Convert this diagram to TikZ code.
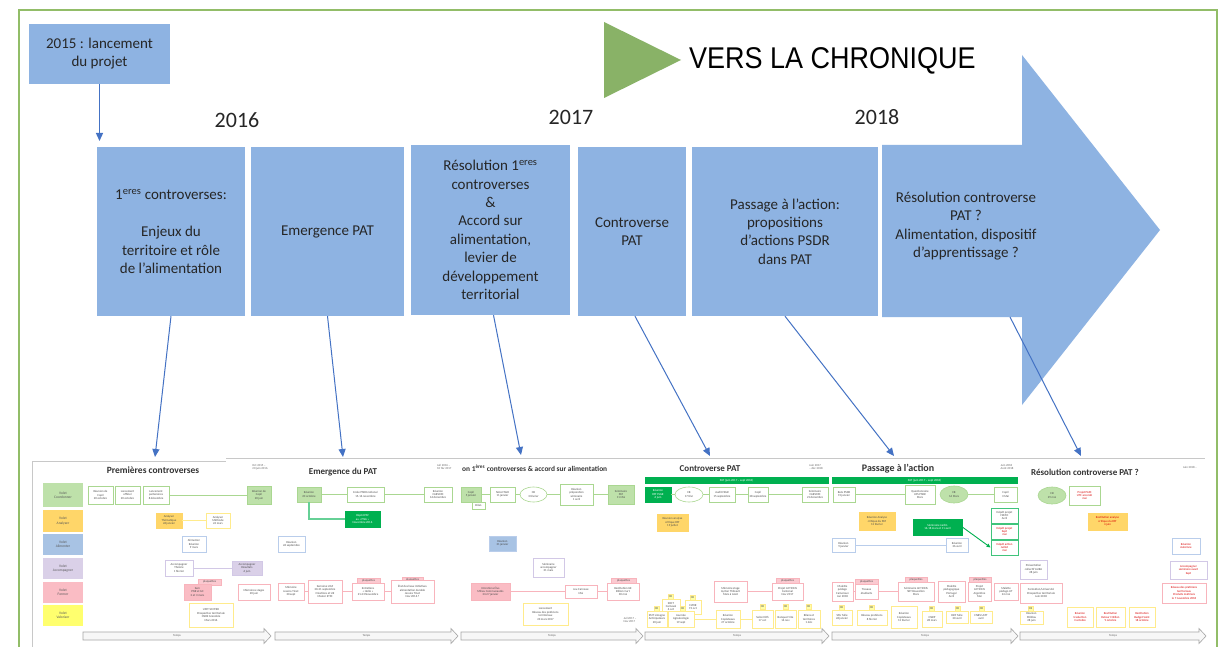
\documentclass[tikz,border=0pt]{standalone}
\usepackage{fontspec}
\setmainfont{Carlito}
\newfontfamily\condfont[FakeStretch=0.9]{Liberation Sans}
\usetikzlibrary{arrows.meta,shapes.geometric}
\definecolor{boxblue}{RGB}{142,179,226}
\definecolor{connblue}{RGB}{68,114,196}
\definecolor{trigreen}{RGB}{137,178,103}
\definecolor{framegreen}{RGB}{146,189,104}
\definecolor{cCo}{RGB}{190,225,170}
\definecolor{cAn}{RGB}{255,214,105}
\definecolor{cAl}{RGB}{168,195,228}
\definecolor{cAc}{RGB}{218,208,232}
\definecolor{cFo}{RGB}{250,188,196}
\definecolor{cVa}{RGB}{255,255,110}
\definecolor{lgreen}{RGB}{170,215,145}
\definecolor{lyellow}{RGB}{255,235,140}
\definecolor{lblue}{RGB}{185,205,235}
\definecolor{llav}{RGB}{210,200,230}
\definecolor{lpink}{RGB}{248,180,188}
\definecolor{dkgreen}{RGB}{0,176,80}
\definecolor{panelgray}{RGB}{200,200,200}
\definecolor{txt}{RGB}{38,38,38}
\newcommand\tnyf{\fontsize{3.0}{3.4}\selectfont}
\newcommand\lanef{\fontsize{3.6}{4.4}\selectfont}
\newcommand\sbx[6]{\node[#1,minimum width={(#4)-(#2)},minimum height={(#5)-(#3)}] (#6) at ({((#2)+(#4))/2},{((#3)+(#5))/2})}
\newcommand\tempsarrow[3]{%
  \draw[tarrow] (#1,632) -- ({#2-7},632) -- ({#2-7},628.5) -- (#2,636) -- ({#2-7},643.5) -- ({#2-7},640) -- (#1,640) -- cycle;
  \node[tnode] (#3) at ({(#1+#2)/2},636) {Temps};}
\tikzset{
  bbox/.style={rectangle,fill=boxblue,draw=none,inner sep=0pt,align=center,text=txt,font=\fontsize{15}{18.4}\selectfont},
  conn/.style={draw=connblue,line width=1pt,-{Triangle[length=8pt,width=7pt]}},
  lane/.style={rectangle,inner sep=0pt,align=center,font=\lanef,text=black!65},
  sb/.style={rectangle,draw,line width=0.6pt,inner sep=0pt,align=center,font=\tnyf,fill=white,text=black!70},
  go/.style={sb,draw=lgreen},
  gf/.style={sb,draw=lgreen,fill=cCo},
  dg/.style={sb,draw=dkgreen,fill=dkgreen,text=white},
  gO/.style={sb,draw=dkgreen!75,line width=0.9pt},
  yo/.style={sb,draw=lyellow},
  yf/.style={sb,draw=cAn,fill=cAn},
  bo/.style={sb,draw=lblue},
  bf/.style={sb,draw=lblue,fill=cAl},
  lo/.style={sb,draw=llav},
  lf/.style={sb,draw=llav,fill=cAc},
  po/.style={sb,draw=lpink},
  pf/.style={sb,draw=lpink,fill=cFo},
  ell/.style={ellipse},
  rt/.style={text=red!85!black},
  tagP/.style={sb,draw=lpink,fill=cFo!80,line width=0.4pt},
  tagY/.style={sb,draw=lyellow,fill=cVa!60,line width=0.4pt},
  bar/.style={sb,draw=dkgreen,fill=dkgreen,text=white},
  lg/.style={draw=lgreen,line width=0.8pt},
  ly/.style={draw=lyellow,line width=0.8pt},
  lb/.style={draw=lblue,line width=0.8pt},
  ll/.style={draw=llav,line width=0.8pt},
  lp/.style={draw=lpink,line width=0.8pt},
  tarrow/.style={draw=black!35,fill=black!3,line width=0.6pt},
  tnode/.style={inner sep=0pt,font=\tnyf,text=black!60},
  ttl/.style={inner sep=0pt,font=\bfseries\fontsize{9}{10}\selectfont,text=black!80},
  datef/.style={inner sep=0pt,align=left,font=\tnyf,text=black!60},
  panel/.style={draw=panelgray,line width=0.6pt},
  year/.style={inner sep=0pt,font=\fontsize{22}{24}\selectfont,text=txt}
}
\begin{document}
\begin{tikzpicture}[x=1pt,y=-1pt]
\useasboundingbox (0,0) rectangle (1230,647);
\fill[white] (0,0) rectangle (1230,647);
% frame
\draw[framegreen,line width=1.4pt] (19,650) -- (19,10) -- (1217,10) -- (1217,650);
% 2015 box
\node[bbox,font=\fontsize{15}{18}\selectfont,minimum width=141,minimum height=60] (b0) at (99.5,54) {2015 : lancement\\du projet};
\coordinate (t0) at (99.5,141);
\draw[conn,line width=1.3pt] (b0.south) -- (t0);
% years
\node[year] (y16) at (237,120) {2016};
\node[year] (y17) at (571,117) {2017};
\node[year] (y18) at (877,117) {2018};
% vers la chronique
\fill[trigreen] (604,22) -- (681,60) -- (604,98) -- cycle;
\node[inner sep=0pt,anchor=west,font=\condfont\fontsize{30}{32}\selectfont] (vlc) at (689,61) {VERS LA CHRONIQUE};
% big arrow
\fill[boxblue] (882,145) -- (1022,145) -- (1022,55) -- (1160,230) -- (1022,405) -- (1022,317) -- (882,317) -- cycle;
% blue boxes
\node[bbox,minimum width=148,minimum height=169] (b1) at (171,231.5) {1\textsuperscript{eres} controverses:\\[18.4pt]Enjeux du\\territoire et rôle\\de l’alimentation};
\node[bbox,minimum width=153,minimum height=169] (b2) at (327.5,231.5) {Emergence PAT};
\node[bbox,minimum width=159,minimum height=170] (b3) at (490.5,230) {Résolution 1\textsuperscript{eres}\\controverses\\\&\\Accord sur\\alimentation,\\levier de\\développement\\territorial};
\node[bbox,minimum width=108,minimum height=169] (b4) at (632,231.5) {Controverse\\PAT};
\node[bbox,minimum width=186,minimum height=169] (b5) at (785,231.5) {Passage à l’action:\\propositions\\d’actions PSDR\\dans PAT};
\node[bbox,fill=none] (b6) at (966,226) {Résolution controverse\\PAT ?\\Alimentation, dispositif\\d’apprentissage ?};
% connectors
\coordinate (t1) at (155,457);
\coordinate (t2) at (343,457);
\coordinate (t3) at (521,455);
\coordinate (t4) at (710,456);
\coordinate (t5) at (894,456);
\coordinate (s6) at (1010,317);
\coordinate (t6) at (1081,456);
\draw[conn] (b1.south) -- (t1);
\draw[conn] (b2.south) -- (t2);
\draw[conn] ([xshift=3pt]b3.south) -- (t3);
\draw[conn] ([xshift=3pt]b4.south) -- (t4);
\draw[conn] (b5.south) -- (t5);
\draw[conn] (s6) -- (t6);
% ===== bottom strip =====
\draw[panel] (32,647) -- (32,461) -- (226,461);
\draw[panel] (226,458) -- (1205,458);
% lanes
\sbx{lane,fill=cCo}{43}{483}{83}{507}{L1}{Volet\\Coordonner};
\sbx{lane,fill=cAn}{43}{510}{83}{532}{L2}{Volet\\Analyser};
\sbx{lane,fill=cAl}{43}{534}{83}{555}{L3}{Volet\\Alimenter};
\sbx{lane,fill=cAc}{43}{558}{83}{579}{L4}{Volet\\Accompagner};
\sbx{lane,fill=cFo}{43}{582}{83}{603}{L5}{Volet\\Former};
\sbx{lane,fill=cVa}{43}{605}{83}{626}{L6}{Volet\\Valoriser};
% panel 1
\node[ttl,font=\bfseries\fontsize{9.5}{10}\selectfont] (h1) at (153,470) {Premières controverses};
\node[datef] (d1) at (260,467) {Oct 2015 –\\20 juin 2016};
\sbx{go}{88}{486}{113}{504}{p1a}{Réunion de\\Copil\\20 octobre};
\sbx{go}{115}{486}{140}{504}{p1b}{Lancement\\officiel\\20 octobre};
\sbx{go}{143}{486}{169}{504}{p1c}{Lancement\\partenaires\\8 décembre};
\sbx{gf}{247}{486}{271}{504}{p1d}{Réunion de\\Copil\\20 juin};
\draw[lg] (p1c) -- (p1d);
\sbx{yf}{156}{513}{182}{528}{p1e}{Analyser\\Thématique\\26 janvier};
\sbx{yo}{206}{513}{230}{528}{p1f}{Analyser\\Méthode\\24 mars};
\draw[ly] (p1e) -- (p1f);
\sbx{bo}{182}{536}{206}{552}{p1g}{Alimenter\\Réunion\\9 mars};
\sbx{lo}{165}{560}{193}{576}{p1h}{Accompagner\\Théorie\\1 février};
\sbx{lf}{232}{561}{262}{575}{p1i}{Accompagner\\Résultats\\6 juin};
\draw[ll] (p1h) -- (p1i);
\sbx{tagP}{198}{579}{221}{585}{p1t}{plaquettes};
\sbx{pf}{184}{584}{211}{600}{p1j}{Sem\\PNR et GC\\2 et 3 mars};
\sbx{po}{238}{584}{270}{600}{p1k}{Mémoires stages\\20 juin};
\sbx{yo}{189}{603}{233}{627}{p1l}{UMT SCOTER\\Prospective territoriale\\CNRS Grenoble\\Mars 2016};
\tempsarrow{83}{271}{tm1}
% panel 2
\node[ttl] (h2) at (343,472) {Emergence du PAT};
\sbx{gf}{297}{487}{321}{502}{p2a}{Réunion\\20 octobre};
\sbx{go}{347}{487}{384}{502}{p2b}{Ecole PSDR national\\15-16 novembre};
\sbx{go}{424}{487}{452}{502}{p2c}{Réunion\\CARSOM\\16 décembre};
\draw[lg] (p2a) -- (p2b);
\draw[lg] (p2b) -- (p2c);
\sbx{dg}{345}{511}{380}{527}{p2d}{Dépôt PAT\\au « PNA »\\Novembre 2016};
\draw[draw=dkgreen!60,line width=1.2pt] (p2a.south) |- (p2d.west);
\sbx{bo}{278}{536}{305}{552}{p2e}{Réunion\\26 septembre};
\sbx{po}{278}{583}{304}{600}{p2f}{Mémoire\\Jessica Tinet\\30 sept};
\sbx{po}{308}{580}{342}{603}{p2g}{Semaine UGF\\20-21 septembre\\Créations et UE\\Master ETM};
\sbx{tagP}{357}{578}{380}{583}{p2t1}{plaquettes};
\sbx{po}{352}{583}{384}{600}{p2h}{Entretiens\\« Hello »\\21-23 Novembre};
\sbx{tagP}{402}{577}{423}{582}{p2t2}{plaquettes};
\sbx{po}{391}{580}{434}{603}{p2i}{État des lieux initiatives\\alimentation durable\\Jessica Tinet\\Nov 2016 ?};
\draw[lp] (p2f) -- (p2g);
\draw[lp] (p2g) -- (p2h);
\draw[lp] (p2h) -- (p2i);
\tempsarrow{275}{458}{tm2}
% panel 3
\node[datef,anchor=west] (d3) at (437,467) {Juil 2016 –\\10 fév 2017};
\node[ttl,anchor=west,font=\bfseries\fontsize{7.4}{8}\selectfont] (h3) at (462,468) {on 1\textsuperscript{ères} controverses \& accord sur alimentation};
\sbx{gf}{461}{487}{481}{502}{p3a}{Copil\\5 janvier};
\sbx{go}{472}{502}{485}{509}{p3a2}{Bilan};
\sbx{go}{490}{487}{515}{502}{p3b}{Note FSGR\\11 janvier};
\sbx{go,ell}{520}{487}{547}{502}{p3c}{CB\\3 février};
\sbx{go}{560}{484}{593}{505}{p3d}{Réunion\\préparation\\séminaire\\1 avril};
\sbx{gf}{608}{485}{634}{504}{p3e}{Séminaire\\PAT\\11 Mai};
\draw[lg] (p3a) -- (p3b);
\draw[lg] (p3b) -- (p3c);
\draw[lg] (p3c) -- (p3d);
\draw[lg] (p3d) -- (p3e);
\sbx{bf}{489}{536}{516}{551}{p3f}{Réunion\\31 janvier};
\sbx{lo}{533}{558}{564}{577}{p3g}{Séminaire\\accompagner\\31 mars};
\sbx{pf}{471}{583}{510}{600}{p3h}{Entretiens Élus\\Milieu Communautés\\23-27 janvier};
\sbx{po}{565}{585}{597}{598}{p3i}{Jeu Carrasse\\Mai};
\sbx{tagP}{611}{578}{636}{583}{p3t}{plaquettes};
\sbx{po}{607}{583}{639}{600}{p3j}{Restitution UE\\Billom Curt\\30 mai};
\draw[lp] (p3h) -- (p3i);
\draw[lp] (p3i) -- (p3j);
\sbx{yo}{523}{603}{568}{625}{p3k}{Lancement\\Réseau des praticiens\\territoriaux\\23 mars 2017};
\node[datef] (d3b) at (630,620) {Juil 2017 –\\Nov 2017};
\tempsarrow{461}{643}{tm3}
% panel 4
\node[ttl] (h4) at (710,469) {Controverse PAT};
\node[datef] (d4) at (816,467) {Juin 2017\\– déc 2018};
\sbx{bar}{645}{477}{828}{483.5}{bar4}{PAT (juin 2017 – sept 2018)};
\sbx{dg}{645}{487}{671}{502}{p4a}{Réunion\\PAT FSGR\\6 juin};
\sbx{go,ell}{675}{487}{703}{502}{p4b}{CB\\17 févr};
\sbx{go}{709}{487}{735}{502}{p4c}{Audit FSGR\\15 septembre};
\sbx{go}{748}{487}{768}{502}{p4d}{Copil\\28 septembre};
\sbx{go}{802}{487}{828}{502}{p4e}{Séminaire\\CARSOM\\21 décembre};
\draw[lg] (p4a) -- (p4b);
\draw[lg] (p4b) -- (p4c);
\draw[lg] (p4c) -- (p4d);
\draw[lg] (p4d) -- (p4e);
\sbx{yf}{657}{514}{688}{531}{p4f}{Réunion analyse\\critique PAT\\19 juillet};
\sbx{po}{714}{581}{747}{602}{p4g}{Mémoire stage\\Ayrton Thibault\\Mars à Août};
\sbx{tagP}{776}{578}{799}{583}{p4t}{plaquettes};
\sbx{po}{772}{583}{803}{600}{p4h}{Projet ACTIONS\\Cantonal\\Nov 2017};
\draw[lp] (p4g) -- (p4h);
\sbx{tagY}{668}{594}{673}{599}{p4tj}{CB};
\sbx{yo}{662}{599}{680}{614}{p4j}{SRCT\\Carnaval\\6 oct};
\sbx{tagY}{690}{595}{695}{600}{p4tl}{CB};
\sbx{yo}{685}{600}{701}{614}{p4l}{CLTER\\19 oct};
\sbx{tagY}{654}{606}{659}{611}{p4ti}{CB};
\sbx{yo}{647}{611}{667}{627}{p4i}{SMT Limagne\\Anticipateurs\\20 juin};
\sbx{tagY}{680}{606}{685}{611}{p4tk}{CB};
\sbx{yo}{668}{611}{694}{627}{p4k}{Journée\\Agroécologie\\19 sept};
\sbx{yo}{716}{610}{740}{628}{p4m}{Réunion\\Coplateaux\\27 octobre};
\sbx{tagY}{760}{604}{765}{609}{p4tn}{CB};
\sbx{yo}{752}{610}{773}{628}{p4n}{Salon Dith\\17 oct};
\sbx{tagY}{783}{604}{788}{609}{p4to}{CB};
\sbx{yo}{775}{610}{796}{628}{p4o}{Banque Frite\\16 nov};
\sbx{tagY}{806}{604}{811}{609}{p4tp}{CB};
\sbx{yo}{798}{610}{820}{628}{p4p}{Bilans et\\territoires\\1 déc};
\draw[ly] (p4k) -- (p4m);
\draw[ly] (p4m) -- (p4n);
\tempsarrow{645}{829}{tm4}
% panel 5
\node[ttl,font=\bfseries\fontsize{10}{11}\selectfont] (h5) at (898,469) {Passage à l’action};
\node[datef] (d5) at (1007,467) {Juin 2018\\Août 2018};
\sbx{bar}{832}{477}{1017}{483.5}{bar5}{PAT (juin 2017 – sept 2018)};
\sbx{go}{833}{487}{855}{502}{p5a}{Buts PSDR\\15 janvier};
\sbx{go}{905}{485}{935}{504}{p5b}{Questionnaire\\UFS PSDR\\Mars};
\sbx{gf,ell}{940}{486}{968}{503}{p5c}{CB\\16 Mars};
\sbx{go}{994}{487}{1017}{502}{p5d}{Copil\\3 Mai};
\draw[lg] (p5a) -- (p5b);
\draw[lg] (p5c) -- (p5d);
\sbx{yf}{859}{512}{895}{530}{p5e}{Réunion Analyse\\critique du PAT\\12 février};
\sbx{dg}{913}{519}{962}{535}{p5f}{Séminaire Jardin\\16-18 mars et 11 avril};
\sbx{gO}{991}{508}{1018}{523}{p5g}{Dépôt projet\\FRMO\\Avril};
\sbx{gO,rt}{991}{524}{1018}{539}{p5h}{Dépôt projet\\Sept\\mai};
\sbx{gO,rt}{991}{540}{1018}{555}{p5i}{Dépôt action\\Juillet\\mai};
\draw[draw=dkgreen,line width=0.9pt,-{Triangle[length=4pt,width=3.5pt]}] (p5f.east) -- (p5i.west);
\sbx{bo}{832}{538}{855}{552}{p5j}{Réunion\\9 janvier};
\sbx{bo}{946}{538}{968}{552}{p5k}{Réunion\\26 avril};
\draw[lb] (p5j) -- (p5k);
\sbx{po}{832}{582}{853}{601}{p5l}{Malette\\pédago\\Cameroun\\Jan 2018};
\sbx{tagP}{855}{579}{878}{584}{p5t1}{plaquettes};
\sbx{po}{855}{584}{878}{599}{p5m}{Travaux\\étudiants};
\sbx{tagP}{905}{577}{927}{582}{p5t2}{plaquettes};
\sbx{po}{898}{582}{934}{601}{p5n}{Séminaire ACTIONS\\SRT Roussillon\\Mars};
\sbx{po}{938}{581}{965}{602}{p5o}{Malette\\pédagogique\\Portugal\\Avril};
\sbx{tagP}{969}{577}{991}{582}{p5t3}{plaquettes};
\sbx{po}{968}{582}{991}{601}{p5p}{Projet\\ACTIONS\\Argentine\\Mai};
\sbx{po}{994}{583}{1018}{600}{p5q}{Malette\\pédago UT\\24 mai};
\draw[lp] (p5l) -- (p5m);
\draw[lp] (p5m) -- (p5n);
\sbx{tagY}{839}{605}{844}{610}{p5tr}{CB};
\sbx{yo}{832}{610}{852}{625}{p5r}{SFG Tulle\\26 janvier};
\sbx{tagY}{869}{605}{874}{610}{p5ts}{CB};
\sbx{yo}{857}{610}{887}{625}{p5s}{Réseau praticiens\\8 février};
\sbx{yo}{891}{606}{917}{628}{p5u}{Réunion\\Coplateaux\\12 février};
\sbx{tagY}{929}{606}{934}{611}{p5tv}{CB};
\sbx{yo}{922}{611}{942}{627}{p5v}{CNRP\\28 mars};
\sbx{tagY}{955}{606}{960}{611}{p5tw}{CB};
\sbx{yo}{946}{611}{968}{623}{p5w}{RRF Tulle\\20 avril};
\sbx{tagY}{979}{606}{984}{611}{p5tx}{CB};
\sbx{yo}{970}{611}{992}{623}{p5x}{CNRS UMT\\avril};
\tempsarrow{832}{1018}{tm5}
% panel 6
\node[ttl] (h6) at (1085,472) {Résolution controverse PAT ?};
\node[datef] (d6) at (1190,467) {Juin 2018 –};
\sbx{gf,ell}{1038}{487}{1066}{504}{p6a}{CB\\29 mai};
\sbx{go,rt}{1069}{486}{1100}{505}{p6b}{Projet PAM\\UTC accordé\\mai};
\sbx{yf,rt}{1088}{513}{1127}{530}{p6c}{Restitution analyse\\critique du PAT\\4 juin};
\sbx{bo,rt}{1172}{538}{1200}{554}{p6d}{Réunion\\Automne};
\sbx{lo}{1020}{560}{1047}{579}{p6e}{Présentation\\collectif AURA\\28 juin};
\sbx{lo,rt}{1170}{561}{1207}{579}{p6f}{Accompagner\\séminaire avant\\Sept};
\sbx{po}{1020}{583}{1062}{603}{p6g}{Formation/Université\\Prospective territoriale\\Juin 2018};
\sbx{po,rt}{1162}{583}{1206}{603}{p6h}{Réseau des praticiens\\territoriaux\\Produits maîtrisés\\le 7 novembre 2018};
\sbx{tagY}{1028}{606}{1033}{611}{p6t}{CB};
\sbx{yo}{1020}{611}{1043}{624}{p6i}{Réunion\\Mildiou\\28 juin};
\sbx{yo,rt}{1067}{607}{1093}{627}{p6j}{Réunion\\traduction\\3 octobre};
\sbx{yo,rt}{1096}{607}{1125}{627}{p6k}{Restitution\\Retour C Billon\\9 octobre};
\sbx{yo,rt}{1129}{607}{1155}{627}{p6l}{Restitution\\Budget Saint\\18 octobre};
\tempsarrow{1020}{1206}{tm6}
\end{tikzpicture}
\end{document}
